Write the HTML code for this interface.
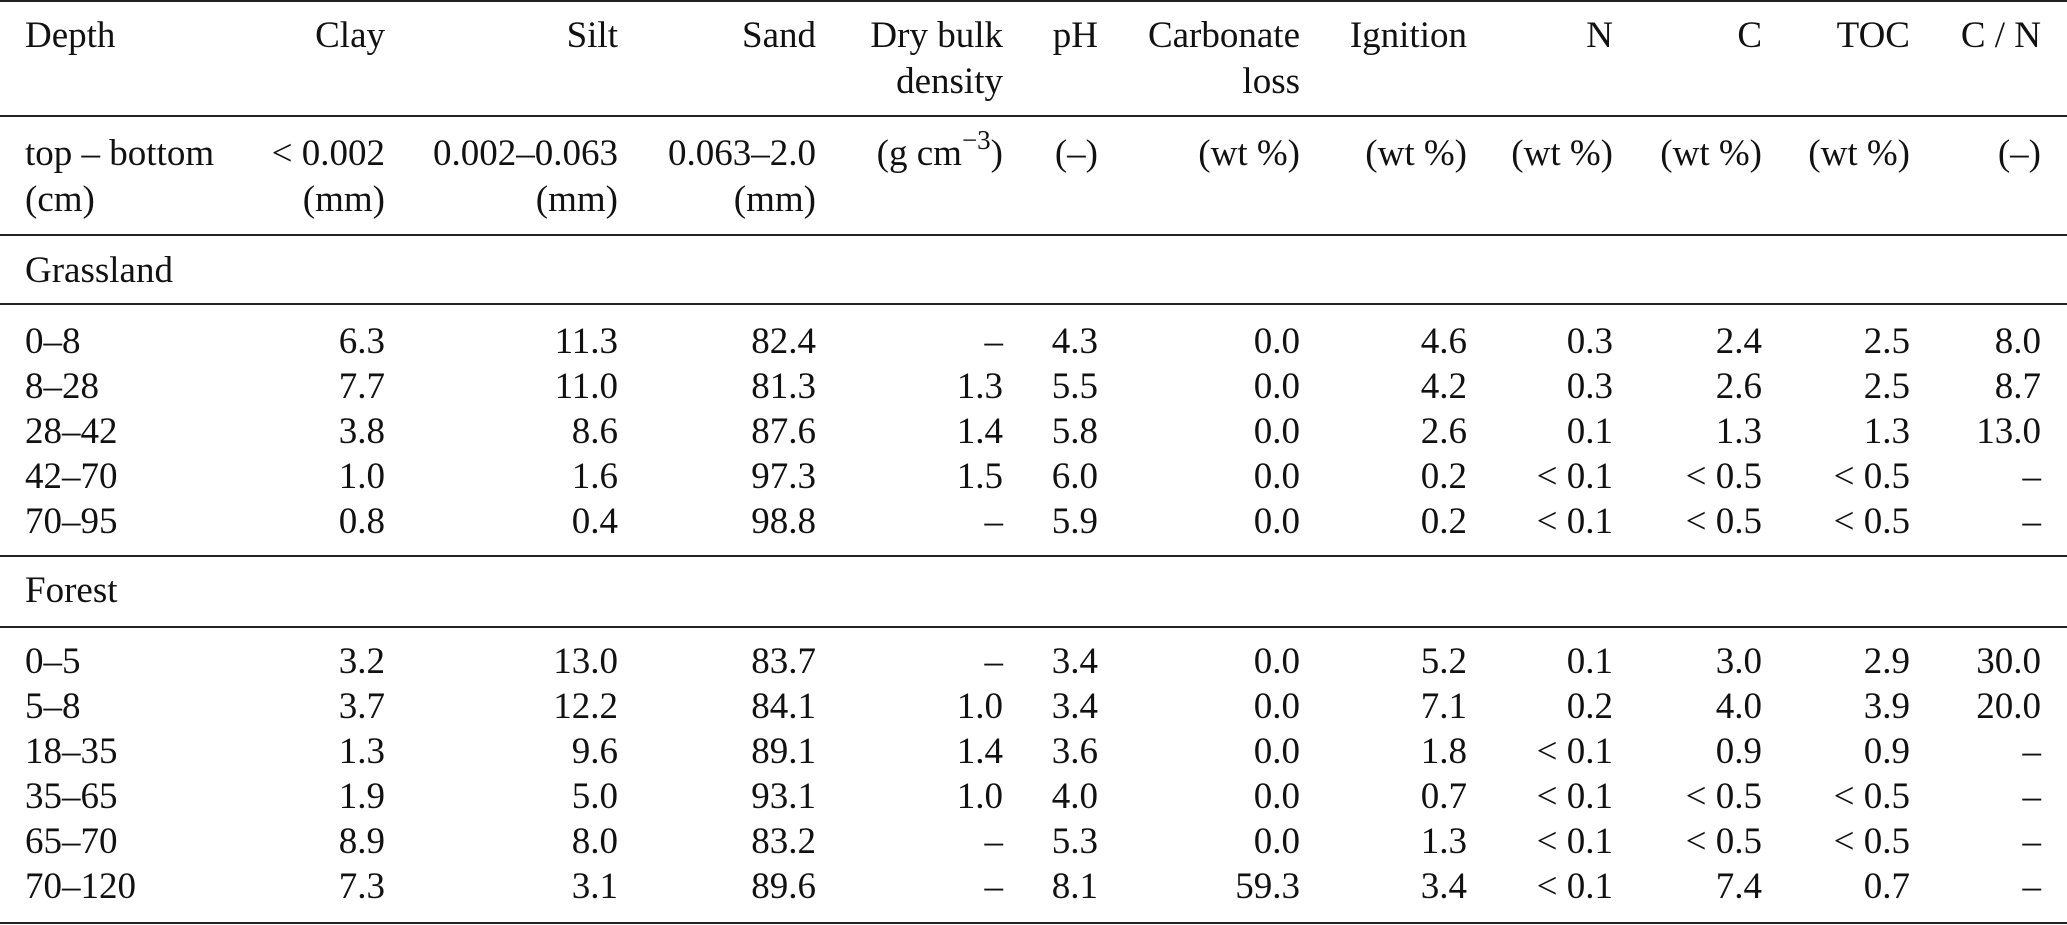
<!DOCTYPE html>
<html><head><meta charset="utf-8">
<style>
html,body{margin:0;padding:0;background:#fff}
#t{position:relative;width:2067px;height:925px;overflow:hidden;font-family:"Liberation Serif",serif;font-size:37px;color:#111}
.c{position:absolute;line-height:46px;height:46px;white-space:nowrap}
.r{text-align:right}
.ln{position:absolute;left:0;width:2067px;background:#222}
sup{font-size:27px;vertical-align:0;position:relative;top:-16px;line-height:0}
</style></head>
<body>
<div id="t"></div>
<script>
const rightEdges=[385,618,816,1003,1098,1300,1467,1613,1762,1910,2041];
const headerLine1=["Clay","Silt","Sand","Dry bulk","pH","Carbonate","Ignition","N","C","TOC","C / N"];
const headerLine2=["","","","density","","loss","","","","",""];
const unitLine1=["< 0.002","0.002–0.063","0.063–2.0","(g cm<sup>−3</sup>)","(–)","(wt %)","(wt %)","(wt %)","(wt %)","(wt %)","(–)"];
const unitLine2=["(mm)","(mm)","(mm)","","","","","","","",""];
const grassDepths=["0–8","8–28","28–42","42–70","70–95"];
const grassValues=[
["6.3","11.3","82.4","–","4.3","0.0","4.6","0.3","2.4","2.5","8.0"],
["7.7","11.0","81.3","1.3","5.5","0.0","4.2","0.3","2.6","2.5","8.7"],
["3.8","8.6","87.6","1.4","5.8","0.0","2.6","0.1","1.3","1.3","13.0"],
["1.0","1.6","97.3","1.5","6.0","0.0","0.2","< 0.1","< 0.5","< 0.5","–"],
["0.8","0.4","98.8","–","5.9","0.0","0.2","< 0.1","< 0.5","< 0.5","–"]];
const forestDepths=["0–5","5–8","18–35","35–65","65–70","70–120"];
const forestValues=[
["3.2","13.0","83.7","–","3.4","0.0","5.2","0.1","3.0","2.9","30.0"],
["3.7","12.2","84.1","1.0","3.4","0.0","7.1","0.2","4.0","3.9","20.0"],
["1.3","9.6","89.1","1.4","3.6","0.0","1.8","< 0.1","0.9","0.9","–"],
["1.9","5.0","93.1","1.0","4.0","0.0","0.7","< 0.1","< 0.5","< 0.5","–"],
["8.9","8.0","83.2","–","5.3","0.0","1.3","< 0.1","< 0.5","< 0.5","–"],
["7.3","3.1","89.6","–","8.1","59.3","3.4","< 0.1","7.4","0.7","–"]];
const T=document.getElementById('t');
function cell(html,x,cy,right,name){
  const d=document.createElement('div');
  
  
  d.className='c'+(right?' r':'');
  d.innerHTML=html;
  d.style.top=(cy-21)+'px';
  if(right){d.style.right=(2067-x)+'px';}else{d.style.left=x+'px';}
  T.appendChild(d);
}
function line(y,h){
  const l=document.createElement('div');
  
  
  l.className='ln';l.style.top=y+'px';l.style.height=h+'px';
  T.appendChild(l);
}
[[0,2],[115,2],[234,2],[303,2],[555,2],[626,2],[922,2]].forEach(a=>line(a[0],a[1]));
cell("Depth",25,34,false,"header-depth");
cell("top – bottom",25,152,false,"unit-depth");
cell("(cm)",25,198,false,"unit-depth-cm");
headerLine1.forEach((h,i)=>{if(h)cell(h,rightEdges[i],34,true,"header-cell");});
headerLine2.forEach((h,i)=>{if(h)cell(h,rightEdges[i],80,true,"header-cell");});
unitLine1.forEach((h,i)=>{if(h)cell(h.replace('<','&lt;').replace('&lt;sup>','<sup>').replace('&lt;/sup>','</sup>'),rightEdges[i],152,true,"unit-cell");});
unitLine2.forEach((h,i)=>{if(h)cell(h,rightEdges[i],198,true,"unit-cell");});
cell("Grassland",25,269,false,"section-grassland");
grassDepths.forEach((d,r)=>{
  const cy=340+r*45;
  cell(d,25,cy,false,"depth-cell");
  grassValues[r].forEach((v,i)=>cell(v.replace('<','&lt;'),rightEdges[i],cy,true,"value-cell"));
});
cell("Forest",25,589,false,"section-forest");
forestDepths.forEach((d,r)=>{
  const cy=660+r*45;
  cell(d,25,cy,false,"depth-cell");
  forestValues[r].forEach((v,i)=>cell(v.replace('<','&lt;'),rightEdges[i],cy,true,"value-cell"));
});
</script>
</body></html>
